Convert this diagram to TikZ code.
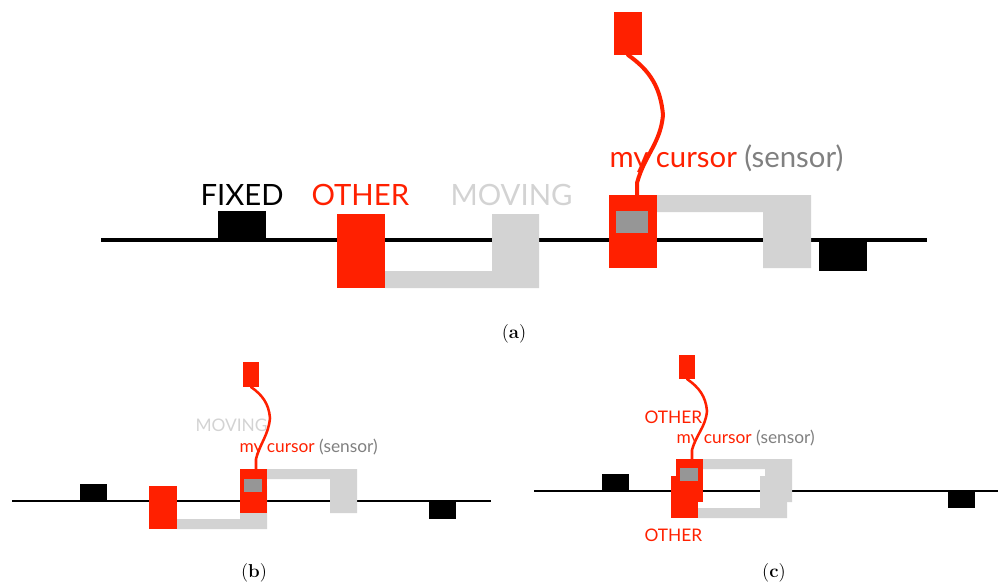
\documentclass[tikz,border=0pt]{standalone}
\usepackage{fontspec}
\newfontfamily\labelfont{Lato}
\definecolor{curred}{RGB}{255,32,0}
\definecolor{movgray}{RGB}{211,211,211}
\definecolor{sensgray}{RGB}{150,150,150}
\definecolor{txtgray}{RGB}{128,128,128}

\tikzset{every picture/.style={line width=0.75pt}}
\tikzset{
  blk/.style={inner sep=0pt,outer sep=0pt,anchor=north west},
  sz/.style 2 args={minimum width=#1*0.75pt,minimum height=#2*0.75pt},
  redblk/.style={blk,fill=curred},
  blackblk/.style={blk,fill=black},
  innerblk/.style={blk,fill=sensgray},
  bigtxt/.style={anchor=base west,inner sep=0pt,font=\labelfont\fontsize{22}{26}\selectfont},
  smalltxt/.style={anchor=base west,inner sep=0pt,font=\labelfont\fontsize{13}{15}\selectfont},
  captxt/.style={inner sep=0pt,font=\fontsize{14}{16}\selectfont},
  wire/.style={draw=curred,line cap=round,line join=round}
}

\begin{document}
\begin{tikzpicture}[x=0.75pt,y=0.75pt,yscale=-1,xscale=1]
\useasboundingbox (0,0) rectangle (998,581);

%%%%%%%%%% panel (a)
%Straight Lines
\draw [line width=3pt]   (101,240) -- (927,240) ;
%Shape: lower U
\fill [movgray] (385,271) -- (492,271) -- (492,214) -- (539,214) -- (539,288) -- (385,288) -- cycle ;
%Shape: upper U
\fill [movgray] (657,195) -- (811,195) -- (811,268) -- (763,268) -- (763,212) -- (657,212) -- cycle ;
%Shape: Rectangles
\node [blackblk, sz={48}{29}] (fixedA) at (218,211) {};
\node [redblk, sz={48}{74}] (otherA) at (337,214) {};
\node [redblk, sz={48}{73}] (cursorA) at (609,195) {};
\node [innerblk, sz={32}{22}] (sensorA) at (616,211) {};
\node [blackblk, sz={48}{31}] (fixedA2) at (819,240) {};
\node [redblk, sz={28}{43}] (handA) at (614,12) {};

% Text Node
\node [bigtxt] (lfixedA) at (200,205) {FIXED};
% Text Node
\node [bigtxt, text=curred] (lotherA) at (311,205) {OTHER};
% Text Node
\node [bigtxt, text=movgray] (lmovingA) at (450,205) {MOVING};
% Text Node
\node [bigtxt] (lcursorA) at (609,167) {\textcolor{curred}{my cursor} \textcolor{txtgray}{(sensor)}};

%Curve Lines
\coordinate (bendA) at (663,115);
\coordinate (dropA) at (637,183);
\draw [wire, line width=3pt] (handA.south) to[out=35,in=-95] (bendA) to[out=95,in=-75] (dropA) -- (dropA |- cursorA.north) ;

% Text Node
\node [captxt] (capA) at (514,334) {(\textbf{a})};

%%%%%%%%%% panel (b)
%Straight Lines
\draw [line width=2pt]   (12,501) -- (491,501) ;
%Shape: lower U
\fill [movgray] (177,519) -- (240,519) -- (240,486) -- (267,486) -- (267,529) -- (177,529) -- cycle ;
%Shape: upper U
\fill [movgray] (267,469) -- (357,469) -- (357,513) -- (330,513) -- (330,479) -- (267,479) -- cycle ;
%Shape: Rectangles
\node [blackblk, sz={27}{17}] (fixedB) at (80,484) {};
\node [redblk, sz={28}{43}] (otherB) at (149,486) {};
\node [redblk, sz={27}{44}] (cursorB) at (240,469) {};
\node [innerblk, sz={18}{13}] (sensorB) at (244,479) {};
\node [blackblk, sz={27}{18}] (fixedB2) at (429,501) {};
\node [redblk, sz={16}{25}] (handB) at (243,362) {};

% Text Node
\node [smalltxt, text=movgray] (lmovingB) at (195,431) {MOVING};
% Text Node
\node [smalltxt] (lcursorB) at (239,452) {\textcolor{curred}{my cursor} \textcolor{txtgray}{(sensor)}};

%Curve Lines
\coordinate (bendB) at (270,418);
\coordinate (dropB) at (256,459);
\draw [wire, line width=1.9pt] (handB.south) to[out=35,in=-95] (bendB) to[out=95,in=-75] (dropB) -- (dropB |- cursorB.north) ;

% Text Node
\node [captxt] (capB) at (254,573) {(\textbf{b})};

%%%%%%%%%% panel (c)
%Straight Lines
\draw [line width=2pt]   (534,491) -- (998,491) ;
%Shape: lower U
\fill [movgray] (698,508) -- (760,508) -- (760,476) -- (787,476) -- (787,518) -- (698,518) -- cycle ;
%Shape: upper U
\fill [movgray] (703,459) -- (792,459) -- (792,502) -- (765,502) -- (765,469) -- (703,469) -- cycle ;
%Shape: Rectangles
\node [blackblk, sz={27}{17}] (fixedC) at (602,474) {};
\node [redblk, sz={27}{42}] (otherC) at (671,476) {};
\node [redblk, sz={27}{43}] (cursorC) at (676,459) {};
\node [innerblk, sz={18}{13}] (sensorC) at (680,468) {};
\node [blackblk, sz={27}{17}] (fixedC2) at (948,491) {};
\node [redblk, sz={16}{24}] (handC) at (679,355) {};

% Text Node
\node [smalltxt, text=curred] (lotherC) at (644,423) {OTHER};
% Text Node
\node [smalltxt] (lcursorC) at (676,443) {\textcolor{curred}{my cursor} \textcolor{txtgray}{(sensor)}};
% Text Node
\node [smalltxt, text=curred] (lotherC2) at (644,541) {OTHER};

%Curve Lines
\coordinate (bendC) at (707,411);
\coordinate (dropC) at (692,450);
\draw [wire, line width=1.9pt] (handC.south) to[out=35,in=-95] (bendC) to[out=95,in=-75] (dropC) -- (dropC |- cursorC.north) ;

% Text Node
\node [captxt] (capC) at (774,573) {(\textbf{c})};

\end{tikzpicture}
\end{document}
